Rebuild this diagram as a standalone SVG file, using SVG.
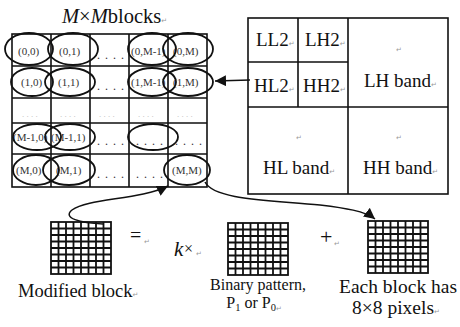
<svg xmlns="http://www.w3.org/2000/svg" width="460" height="327" viewBox="0 0 460 327">
<style>
text{font-family:"Liberation Serif","Times New Roman",serif;fill:#111}
.big{font-size:19px}
.cell{font-size:11px;fill:#333}
.dots{font-size:12px;fill:#333;letter-spacing:1px}
.fdots{font-size:9px;fill:#bbb}
.pm{font-size:7px;fill:#999;font-family:"DejaVu Sans",sans-serif}
.tbl{fill:none;stroke:#111;stroke-width:1.6}
.ell{fill:none;stroke:#111;stroke-width:1.8}
.con{fill:none;stroke:#111;stroke-width:1.5}
.gl{fill:#fff;stroke:#111;stroke-width:1.8}
</style>
<defs>
<marker id="ah" viewBox="0 0 10 10" refX="10" refY="5" markerWidth="11" markerHeight="11" markerUnits="userSpaceOnUse" orient="auto">
<path d="M0,0 L10,5 L0,10 z" fill="#111"/>
</marker>
<g id="g8">
<rect class="gl" x="0" y="0" width="60" height="52"/>
<path class="gl" d="M7.5,0V52M15,0V52M22.5,0V52M30,0V52M37.5,0V52M45,0V52M52.5,0V52M0,6.5H60M0,13H60M0,19.5H60M0,26H60M0,32.5H60M0,39H60M0,45.5H60"/>
</g>
</defs>
<rect width="460" height="327" fill="#fff"/>

<g id="title">
<text x="62" y="23" font-size="20.5"><tspan font-style="italic">M</tspan>×<tspan font-style="italic">M</tspan>blocks<tspan class="pm">↵</tspan></text>
</g>

<g id="blockgrid">
<rect class="tbl" x="12" y="34" width="195" height="153"/>
<path class="tbl" d="M51,34V187M90,34V187M129,34V187M168,34V187M12,66H207M12,98H207M12,123H207M12,154H207"/>
<text class="cell" x="18" y="55">(0,0)</text>
<text class="cell" x="59" y="55">(0,1)</text>
<text class="dots" x="97" y="59">. . . .</text>
<text class="cell" x="131" y="55">(0,M-1)</text>
<text class="cell" x="173" y="55">(0,M)</text>
<text class="cell" x="21" y="86">(1,0)</text>
<text class="cell" x="58" y="86">(1,1)</text>
<text class="dots" x="97" y="90">. . . .</text>
<text class="cell" x="131" y="86">(1,M-1)</text>
<text class="cell" x="173" y="86">(1,M)</text>
<text class="fdots" x="22" y="117">. . . .</text>
<text class="fdots" x="60" y="117">. . . .</text>
<text class="fdots" x="99" y="117">. . . .</text>
<text class="fdots" x="138" y="117">. . . .</text>
<text class="fdots" x="177" y="117">. . . .</text>
<text class="cell" x="13" y="141">(M-1,0)</text>
<text class="cell" x="51" y="141">(M-1,1)</text>
<text class="dots" x="97" y="145">. . . .</text>
<text class="dots" x="136" y="145">. . . .</text>
<text class="dots" x="175" y="145">. . . .</text>
<text class="cell" x="16" y="174">(M,0)</text>
<text class="cell" x="56" y="174">(M,1)</text>
<text class="dots" x="97" y="178">. . . .</text>
<text class="dots" x="136" y="178">. . . .</text>
<text class="cell" x="172" y="174">(M,M)</text>
<ellipse class="ell" cx="29" cy="49" rx="24" ry="16"/>
<ellipse class="ell" cx="73" cy="49" rx="25" ry="16"/>
<ellipse class="ell" cx="152" cy="49" rx="24" ry="16"/>
<ellipse class="ell" cx="188" cy="49" rx="25" ry="16"/>
<ellipse class="ell" cx="32" cy="82" rx="21" ry="14"/>
<ellipse class="ell" cx="70" cy="82" rx="25" ry="14"/>
<ellipse class="ell" cx="152" cy="82" rx="24" ry="14"/>
<ellipse class="ell" cx="188" cy="82" rx="25" ry="14"/>
<ellipse class="ell" cx="37" cy="137" rx="24" ry="13"/>
<ellipse class="ell" cx="70" cy="137" rx="25" ry="13"/>
<ellipse class="ell" cx="153" cy="137" rx="25" ry="13"/>
<ellipse class="ell" cx="36" cy="170" rx="23" ry="15"/>
<ellipse class="ell" cx="69" cy="170" rx="26" ry="15"/>
<ellipse class="ell" cx="187" cy="170" rx="23" ry="15"/>
</g>

<g id="bands">
<rect class="tbl" x="248" y="18" width="200" height="176"/>
<path class="tbl" d="M348,18V194M248,107H448M298,18V107M248,62H348"/>
<text class="big" x="256" y="46">LL2<tspan class="pm">↵</tspan></text>
<text class="big" x="305" y="46">LH2<tspan class="pm">↵</tspan></text>
<text class="big" x="254" y="92">HL2<tspan class="pm">↵</tspan></text>
<text class="big" x="303" y="92">HH2<tspan class="pm">↵</tspan></text>
<text class="pm" x="396" y="52">↵</text>
<text class="big" x="364" y="87">LH band<tspan class="pm">↵</tspan></text>
<text class="pm" x="296" y="140">↵</text>
<text class="big" x="263" y="174">HL band<tspan class="pm">↵</tspan></text>
<text class="pm" x="396" y="140">↵</text>
<text class="big" x="363" y="174">HH band<tspan class="pm">↵</tspan></text>
</g>

<g id="modified">
<use href="#g8" x="51" y="222"/>
<text x="18" y="297" font-size="18.5">Modified block<tspan class="pm">↵</tspan></text>
</g>
<g id="binary">
<use href="#g8" x="228" y="223"/>
<text x="258" y="290" font-size="16" text-anchor="middle">Binary pattern,</text>
<text x="254" y="308" font-size="16" text-anchor="middle">P<tspan font-size="10.5" dy="3">1</tspan><tspan dy="-3"> or P</tspan><tspan font-size="10.5" dy="3">0</tspan><tspan class="pm">↵</tspan></text>
</g>
<g id="pixels">
<use href="#g8" x="368" y="221"/>
<text x="398" y="293" font-size="19.5" text-anchor="middle">Each block has</text>
<text x="396" y="314" font-size="19.5" text-anchor="middle">8×8 pixels<tspan class="pm">↵</tspan></text>
</g>
<g id="ops">
<text x="130" y="242" font-size="20" fill="#444">=</text>
<text class="pm" x="144" y="244">↵</text>
<text x="174" y="256" font-size="21" font-style="italic" fill="#333">k</text>
<text x="184" y="254" font-size="16" fill="#999">×</text>
<text class="pm" x="196" y="256">↵</text>
<text x="320" y="244" font-size="22" fill="#888">+</text>
<text class="pm" x="334" y="246">↵</text>
</g>

<g id="connectors">
<path class="con" d="M250,80 L215,81" marker-end="url(#ah)"/>
<path class="con" d="M103,224 C80,223 62,218 72,210 C88,198 140,200 168,186" marker-end="url(#ah)"/>
<path class="con" d="M205,182 C214,200 270,200 320,205 C345,208 365,211 375,219" marker-end="url(#ah)"/>
</g>
</svg>
